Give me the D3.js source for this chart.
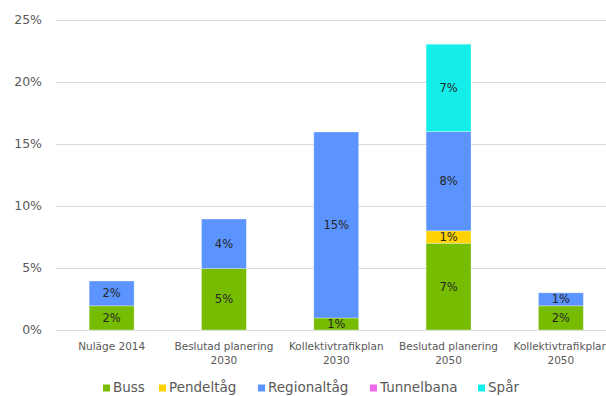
<html>
<head>
<script src="https://d3js.org/d3.v7.min.js"></script>
<style>
  body { margin: 0; background: #fff; }
  text { font-family: "DejaVu Sans", sans-serif; }
</style>
</head>
<body>
<svg width="606" height="396" id="chart"></svg>
<script>

var categories = [["Nuläge 2014"], ["Beslutad planering", "2030"], ["Kollektivtrafikplan", "2030"], ["Beslutad planering", "2050"], ["Kollektivtrafikplan", "2050"]];
var seriesNames = ["Buss", "Pendeltåg", "Regionaltåg", "Tunnelbana", "Spår"];
var buss = [1.95, 4.95, 0.97, 7.0, 1.95];
var pendeltag = [0, 0, 0, 1.0, 0];
var regionaltag = [2.0, 4.0, 15.0, 8.0, 1.05];
var tunnelbana = [0, 0, 0, 0, 0];
var spar = [0, 0, 0, 7.05, 0];
var yTicks = [0, 5, 10, 15, 20, 25];

var colors = ["#76bc00", "#ffd200", "#5b93ff", "#f069e8", "#14eeea"];

var svg = d3.select("#chart");

// plot area runs off the right edge, like the original crop
var x = d3.scaleBand().domain(d3.range(categories.length)).range([55.5, 617]).paddingInner(0.6).paddingOuter(0.3);
var y = d3.scaleLinear().domain([0, 25]).range([330, 20]);

// gridlines
svg.append("g")
  .selectAll("line")
  .data(yTicks)
  .enter()
  .append("line")
    .attr("x1", 56)
    .attr("x2", 606)
    .attr("y1", function(d) { return Math.round(y(d)) + 0.5; })
    .attr("y2", function(d) { return Math.round(y(d)) + 0.5; })
    .attr("stroke", "#d9d9d9")
    .attr("stroke-width", 1);

// y labels
svg.append("g")
  .selectAll("text")
  .data(yTicks)
  .enter()
  .append("text")
    .attr("x", 42)
    .attr("y", function(d) { return y(d); })
    .attr("dy", "0.35em")
    .attr("text-anchor", "end")
    .style("font-size", "12.5px")
    .style("fill", "#595959")
    .text(function(d) { return d + "%"; });

// stack
var table = categories.map(function(c, i) {
  return { i: i, Buss: buss[i], "Pendeltåg": pendeltag[i], "Regionaltåg": regionaltag[i], Tunnelbana: tunnelbana[i], "Spår": spar[i] };
});
var stacked = d3.stack().keys(seriesNames)(table);

var layers = svg.append("g")
  .selectAll("g")
  .data(stacked)
  .enter()
  .append("g")
    .attr("fill", function(d, i) { return colors[i]; });

layers.selectAll("rect")
  .data(function(d) { return d.filter(function(p) { return p[1] - p[0] > 0; }); })
  .enter()
  .append("rect")
    .attr("x", function(d) { return x(d.data.i); })
    .attr("width", x.bandwidth())
    .attr("y", function(d) { return y(d[1]); })
    .attr("height", function(d) { return y(d[0]) - y(d[1]); })
    .attr("stroke", "#ffffff")
    .attr("stroke-opacity", 0.4)
    .attr("stroke-width", 0.8);

// data labels
layers.selectAll("text")
  .data(function(d) { return d.filter(function(p) { return p[1] - p[0] > 0; }); })
  .enter()
  .append("text")
    .attr("x", function(d) { return x(d.data.i) + x.bandwidth() / 2; })
    .attr("y", function(d) { return (y(d[0]) + y(d[1])) / 2; })
    .attr("dy", "0.35em")
    .attr("text-anchor", "middle")
    .style("font-size", "11.5px")
    .style("fill", "#262626")
    .text(function(d) { return Math.round(d[1] - d[0]) + "%"; });

// category labels
var cat = svg.append("g")
  .selectAll("text")
  .data(categories)
  .enter()
  .append("text")
    .attr("x", function(d, i) { return x(i) + x.bandwidth() / 2; })
    .attr("y", 346)
    .attr("text-anchor", "middle")
    .style("font-size", "10.5px")
    .style("fill", "#595959");
cat.selectAll("tspan")
  .data(function(d) { return d; })
  .enter()
  .append("tspan")
    .attr("x", function() { return d3.select(this.parentNode).attr("x"); })
    .attr("dy", function(d, j) { return j === 0 ? "0.35em" : "14px"; })
    .text(function(d) { return d; });

// legend
var legendX = [103, 159, 258, 370, 478];
var legend = svg.append("g")
  .selectAll("g")
  .data(seriesNames)
  .enter()
  .append("g")
    .attr("transform", function(d, i) { return "translate(" + legendX[i] + ",387.5)"; });
legend.append("rect")
  .attr("x", 0)
  .attr("y", -3)
  .attr("width", 7)
  .attr("height", 7)
  .attr("fill", function(d, i) { return colors[i]; });
legend.append("text")
  .attr("x", 10)
  .attr("y", 0)
  .attr("dy", "0.35em")
  .style("font-size", "13.5px")
  .style("fill", "#595959")
  .text(function(d) { return d; });

</script>
</body>
</html>
